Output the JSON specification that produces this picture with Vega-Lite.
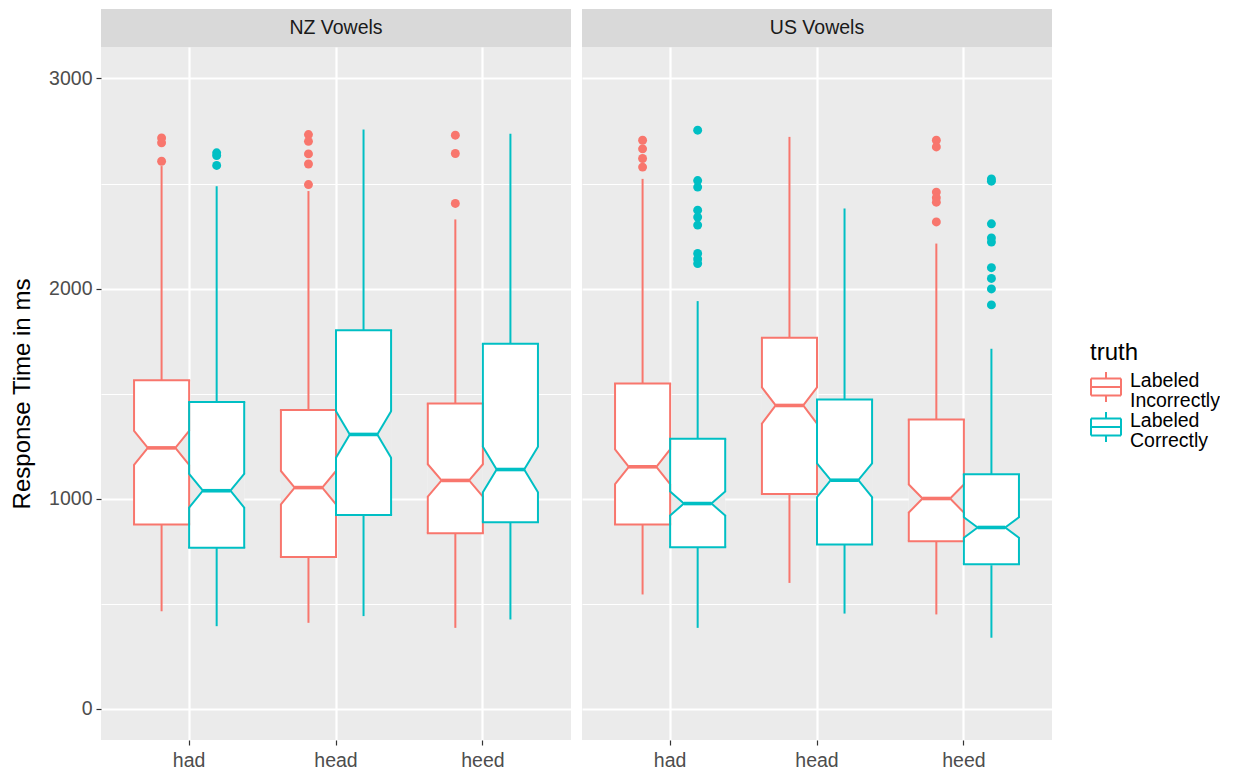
{
"$schema": "https://vega.github.io/schema/vega-lite/v6.json",
"padding": {"left": 10, "top": 9, "right": 0, "bottom": 0},
"background": "#FFFFFF",
"datasets": {
 "boxes": [
  {"panel":"NZ Vowels","vowel":"had","truth":"Labeled Incorrectly","wlo":463,"q1":876,"nlo":1160,"med":1241,"nhi":1322,"q3":1563,"whi":2583},
  {"panel":"NZ Vowels","vowel":"had","truth":"Labeled Correctly","wlo":392,"q1":765,"nlo":957,"med":1037,"nhi":1117,"q3":1460,"whi":2487},
  {"panel":"NZ Vowels","vowel":"head","truth":"Labeled Incorrectly","wlo":408,"q1":722,"nlo":972,"med":1052,"nhi":1131,"q3":1422,"whi":2464},
  {"panel":"NZ Vowels","vowel":"head","truth":"Labeled Correctly","wlo":440,"q1":921,"nlo":1194,"med":1305,"nhi":1416,"q3":1801,"whi":2757},
  {"panel":"NZ Vowels","vowel":"heed","truth":"Labeled Incorrectly","wlo":384,"q1":835,"nlo":1009,"med":1086,"nhi":1163,"q3":1452,"whi":2329},
  {"panel":"NZ Vowels","vowel":"heed","truth":"Labeled Correctly","wlo":424,"q1":887,"nlo":1030,"med":1138,"nhi":1246,"q3":1737,"whi":2737},
  {"panel":"US Vowels","vowel":"had","truth":"Labeled Incorrectly","wlo":543,"q1":876,"nlo":1068,"med":1151,"nhi":1234,"q3":1548,"whi":2522},
  {"panel":"US Vowels","vowel":"had","truth":"Labeled Correctly","wlo":384,"q1":768,"nlo":919,"med":976,"nhi":1033,"q3":1284,"whi":1940},
  {"panel":"US Vowels","vowel":"head","truth":"Labeled Incorrectly","wlo":598,"q1":1022,"nlo":1357,"med":1443,"nhi":1529,"q3":1765,"whi":2722},
  {"panel":"US Vowels","vowel":"head","truth":"Labeled Correctly","wlo":452,"q1":781,"nlo":1007,"med":1087,"nhi":1167,"q3":1471,"whi":2381},
  {"panel":"US Vowels","vowel":"heed","truth":"Labeled Incorrectly","wlo":448,"q1":797,"nlo":933,"med":1000,"nhi":1067,"q3":1376,"whi":2214},
  {"panel":"US Vowels","vowel":"heed","truth":"Labeled Correctly","wlo":337,"q1":687,"nlo":813,"med":862,"nhi":911,"q3":1116,"whi":1713}
 ],
 "outliers": [
  {"panel":"NZ Vowels","vowel":"had","truth":"Labeled Incorrectly","value":2717},
  {"panel":"NZ Vowels","vowel":"had","truth":"Labeled Incorrectly","value":2694},
  {"panel":"NZ Vowels","vowel":"had","truth":"Labeled Incorrectly","value":2606},
  {"panel":"NZ Vowels","vowel":"had","truth":"Labeled Correctly","value":2646},
  {"panel":"NZ Vowels","vowel":"had","truth":"Labeled Correctly","value":2633},
  {"panel":"NZ Vowels","vowel":"had","truth":"Labeled Correctly","value":2586},
  {"panel":"NZ Vowels","vowel":"head","truth":"Labeled Incorrectly","value":2733},
  {"panel":"NZ Vowels","vowel":"head","truth":"Labeled Incorrectly","value":2701},
  {"panel":"NZ Vowels","vowel":"head","truth":"Labeled Incorrectly","value":2641},
  {"panel":"NZ Vowels","vowel":"head","truth":"Labeled Incorrectly","value":2593},
  {"panel":"NZ Vowels","vowel":"head","truth":"Labeled Incorrectly","value":2495},
  {"panel":"NZ Vowels","vowel":"heed","truth":"Labeled Incorrectly","value":2730},
  {"panel":"NZ Vowels","vowel":"heed","truth":"Labeled Incorrectly","value":2643},
  {"panel":"NZ Vowels","vowel":"heed","truth":"Labeled Incorrectly","value":2405},
  {"panel":"US Vowels","vowel":"had","truth":"Labeled Incorrectly","value":2706},
  {"panel":"US Vowels","vowel":"had","truth":"Labeled Incorrectly","value":2665},
  {"panel":"US Vowels","vowel":"had","truth":"Labeled Incorrectly","value":2619},
  {"panel":"US Vowels","vowel":"had","truth":"Labeled Incorrectly","value":2578},
  {"panel":"US Vowels","vowel":"had","truth":"Labeled Correctly","value":2754},
  {"panel":"US Vowels","vowel":"had","truth":"Labeled Correctly","value":2514},
  {"panel":"US Vowels","vowel":"had","truth":"Labeled Correctly","value":2483},
  {"panel":"US Vowels","vowel":"had","truth":"Labeled Correctly","value":2373},
  {"panel":"US Vowels","vowel":"had","truth":"Labeled Correctly","value":2340},
  {"panel":"US Vowels","vowel":"had","truth":"Labeled Correctly","value":2302},
  {"panel":"US Vowels","vowel":"had","truth":"Labeled Correctly","value":2167},
  {"panel":"US Vowels","vowel":"had","truth":"Labeled Correctly","value":2141},
  {"panel":"US Vowels","vowel":"had","truth":"Labeled Correctly","value":2119},
  {"panel":"US Vowels","vowel":"heed","truth":"Labeled Incorrectly","value":2706},
  {"panel":"US Vowels","vowel":"heed","truth":"Labeled Incorrectly","value":2674},
  {"panel":"US Vowels","vowel":"heed","truth":"Labeled Incorrectly","value":2459},
  {"panel":"US Vowels","vowel":"heed","truth":"Labeled Incorrectly","value":2432},
  {"panel":"US Vowels","vowel":"heed","truth":"Labeled Incorrectly","value":2411},
  {"panel":"US Vowels","vowel":"heed","truth":"Labeled Incorrectly","value":2317},
  {"panel":"US Vowels","vowel":"heed","truth":"Labeled Correctly","value":2522},
  {"panel":"US Vowels","vowel":"heed","truth":"Labeled Correctly","value":2511},
  {"panel":"US Vowels","vowel":"heed","truth":"Labeled Correctly","value":2308},
  {"panel":"US Vowels","vowel":"heed","truth":"Labeled Correctly","value":2241},
  {"panel":"US Vowels","vowel":"heed","truth":"Labeled Correctly","value":2221},
  {"panel":"US Vowels","vowel":"heed","truth":"Labeled Correctly","value":2099},
  {"panel":"US Vowels","vowel":"heed","truth":"Labeled Correctly","value":2048},
  {"panel":"US Vowels","vowel":"heed","truth":"Labeled Correctly","value":1998},
  {"panel":"US Vowels","vowel":"heed","truth":"Labeled Correctly","value":1922}
 ],
 "strips": [{"panel":"NZ Vowels"},{"panel":"US Vowels"}]
},
"hconcat": [
 {
  "vconcat": [
   {"width": 470, "height": 38, "view": {"fill": "#D9D9D9", "stroke": null},
    "data": {"name": "strips"}, "transform": [{"filter": "datum.panel === 'NZ Vowels'"}],
    "mark": {"type": "text", "font": "Liberation Sans", "fontSize": 19.5, "color": "#1A1A1A"},
    "encoding": {"text": {"field": "panel", "type": "nominal"}}},
   {"width": 470, "height": 693,
    "data": {"name": "boxes"}, "transform": [{"filter": "datum.panel === 'NZ Vowels'"}],
    "layer": [
     {"mark": {"type": "rule", "strokeWidth": 2},
      "encoding": {"x": {"field":"vowel","type":"nominal","scale":{"domain":["had","head","heed"],"paddingInner":0.25,"paddingOuter":0.225},"axis":{"grid":true,"bandPosition":0.5,"labelAngle":0},"title":null},
       "xOffset": {"field":"truth","type":"nominal","scale":{"domain":["Labeled Incorrectly","Labeled Correctly"],"paddingInner":0,"paddingOuter":0}},
       "y": {"field":"q3","type":"quantitative","scale":{"domain":[-150,3150],"nice":false,"zero":false},"axis":{"values":[0,500,1000,1500,2000,2500,3000],"format":"d","grid":true,"gridWidth":{"condition":{"test":"datum.value % 1000 === 0","value":2.2},"value":1.1},"tickOpacity":{"condition":{"test":"datum.value % 1000 === 0","value":1},"value":0},"labelExpr":"datum.value % 1000 === 0 ? datum.label : ''"},"title":"Response Time in ms"},
       "y2": {"field":"whi"},
       "stroke": {"field":"truth","type":"nominal","title":"truth","scale":{"domain":["Labeled Incorrectly","Labeled Correctly"],"range":["#F8766D","#00BFC4"]},
        "legend":{"orient":"none","legendX":989,"legendY":332,"labelExpr":"['Labeled', '\u00a0' + slice(datum.label, 8)]","symbolType":"M-1,-0.567H1 M1,-0.567V0.567 M1,0.567H-1 M-1,0.567V-0.567 M-1,0H1 M0,-0.567V-1 M0,0.567V1","symbolSize":900,"symbolStrokeWidth":2,"symbolFillColor":"#FFFFFF","labelOffset":8,"rowPadding":-13,"titlePadding":6,"padding":0,"encode":{"labels":{"update":{"lineHeight":{"value":20},"dy":{"value":-6}}}}}}}},
     {"mark": {"type": "rule", "strokeWidth": 2},
      "encoding": {"x": {"field":"vowel","type":"nominal","scale":{"domain":["had","head","heed"],"paddingInner":0.25,"paddingOuter":0.225},"axis":{"grid":true,"bandPosition":0.5,"labelAngle":0},"title":null},
       "xOffset": {"field":"truth","type":"nominal","scale":{"domain":["Labeled Incorrectly","Labeled Correctly"],"paddingInner":0,"paddingOuter":0}},
       "y": {"field":"wlo","type":"quantitative","scale":{"domain":[-150,3150],"nice":false,"zero":false},"axis":{"values":[0,500,1000,1500,2000,2500,3000],"format":"d","grid":true,"gridWidth":{"condition":{"test":"datum.value % 1000 === 0","value":2.2},"value":1.1},"tickOpacity":{"condition":{"test":"datum.value % 1000 === 0","value":1},"value":0},"labelExpr":"datum.value % 1000 === 0 ? datum.label : ''"},"title":"Response Time in ms"},
       "y2": {"field":"q1"},
       "stroke": {"field":"truth","type":"nominal","title":"truth","scale":{"domain":["Labeled Incorrectly","Labeled Correctly"],"range":["#F8766D","#00BFC4"]}}}},
     {"mark": {"type": "bar", "color": "#FFFFFF", "stroke": null},
      "encoding": {"x": {"field":"vowel","type":"nominal","scale":{"domain":["had","head","heed"],"paddingInner":0.25,"paddingOuter":0.225},"axis":{"grid":true,"bandPosition":0.5,"labelAngle":0},"title":null},
       "xOffset": {"field":"truth","type":"nominal","scale":{"domain":["Labeled Incorrectly","Labeled Correctly"],"paddingInner":0,"paddingOuter":0}},
       "y": {"field":"q1","type":"quantitative","scale":{"domain":[-150,3150],"nice":false,"zero":false},"axis":{"values":[0,500,1000,1500,2000,2500,3000],"format":"d","grid":true,"gridWidth":{"condition":{"test":"datum.value % 1000 === 0","value":2.2},"value":1.1},"tickOpacity":{"condition":{"test":"datum.value % 1000 === 0","value":1},"value":0},"labelExpr":"datum.value % 1000 === 0 ? datum.label : ''"},"title":"Response Time in ms"},
       "y2": {"field":"q3"}}},
     {"mark": {"type": "bar", "color": "#EBEBEB", "stroke": null},
      "encoding": {"x": {"field":"vowel","type":"nominal","scale":{"domain":["had","head","heed"],"paddingInner":0.25,"paddingOuter":0.225},"axis":{"grid":true,"bandPosition":0.5,"labelAngle":0},"title":null},
       "xOffset": {"field":"truth","type":"nominal","scale":{"domain":["Labeled Incorrectly","Labeled Correctly"],"paddingInner":0,"paddingOuter":0}},
       "y": {"field":"nlo","type":"quantitative","scale":{"domain":[-150,3150],"nice":false,"zero":false},"axis":{"values":[0,500,1000,1500,2000,2500,3000],"format":"d","grid":true,"gridWidth":{"condition":{"test":"datum.value % 1000 === 0","value":2.2},"value":1.1},"tickOpacity":{"condition":{"test":"datum.value % 1000 === 0","value":1},"value":0},"labelExpr":"datum.value % 1000 === 0 ? datum.label : ''"},"title":"Response Time in ms"},
       "y2": {"field":"nhi"}}},
     {"transform": [{"fold": ["nlo","med","nhi"], "as": ["stat","sy"]}],
      "mark": {"type": "trail", "color": "#FFFFFF", "opacity": 1},
      "encoding": {"x": {"field":"vowel","type":"nominal","scale":{"domain":["had","head","heed"],"paddingInner":0.25,"paddingOuter":0.225},"axis":{"grid":true,"bandPosition":0.5,"labelAngle":0},"title":null},
       "xOffset": {"field":"truth","type":"nominal","scale":{"domain":["Labeled Incorrectly","Labeled Correctly"],"paddingInner":0,"paddingOuter":0}},
       "y": {"field":"sy","type":"quantitative","scale":{"domain":[-150,3150],"nice":false,"zero":false},"axis":{"values":[0,500,1000,1500,2000,2500,3000],"format":"d","grid":true,"gridWidth":{"condition":{"test":"datum.value % 1000 === 0","value":2.2},"value":1.1},"tickOpacity":{"condition":{"test":"datum.value % 1000 === 0","value":1},"value":0},"labelExpr":"datum.value % 1000 === 0 ? datum.label : ''"},"title":"Response Time in ms"},
       "size": {"field":"stat","type":"ordinal","scale":{"type":"ordinal","domain":["nlo","med","nhi"],"range":[55,27.5,55]},"legend":null},
       "detail": [{"field":"vowel","type":"nominal"},{"field":"truth","type":"nominal"}],
       "order": {"field":"sy","type":"quantitative"}}},
     {"transform": [{"filter": "datum.truth === 'Labeled Incorrectly'"}],
      "layer": [
       {"mark": {"type": "rule", "strokeWidth": 2},
        "encoding": {"x": {"field":"vowel","type":"nominal","bandPosition":0,"scale":{"domain":["had","head","heed"],"paddingInner":0.25,"paddingOuter":0.225},"axis":{"grid":true,"bandPosition":0.5,"labelAngle":0},"title":null},
         "y": {"field":"nhi","type":"quantitative","scale":{"domain":[-150,3150],"nice":false,"zero":false},"axis":{"values":[0,500,1000,1500,2000,2500,3000],"format":"d","grid":true,"gridWidth":{"condition":{"test":"datum.value % 1000 === 0","value":2.2},"value":1.1},"tickOpacity":{"condition":{"test":"datum.value % 1000 === 0","value":1},"value":0},"labelExpr":"datum.value % 1000 === 0 ? datum.label : ''"},"title":"Response Time in ms"},
         "y2": {"field":"q3"},
         "stroke": {"field":"truth","type":"nominal","title":"truth","scale":{"domain":["Labeled Incorrectly","Labeled Correctly"],"range":["#F8766D","#00BFC4"]}}}},
       {"mark": {"type": "rule", "strokeWidth": 2},
        "encoding": {"x": {"field":"vowel","type":"nominal","bandPosition":0,"scale":{"domain":["had","head","heed"],"paddingInner":0.25,"paddingOuter":0.225},"axis":{"grid":true,"bandPosition":0.5,"labelAngle":0},"title":null},
         "y": {"field":"q1","type":"quantitative","scale":{"domain":[-150,3150],"nice":false,"zero":false},"axis":{"values":[0,500,1000,1500,2000,2500,3000],"format":"d","grid":true,"gridWidth":{"condition":{"test":"datum.value % 1000 === 0","value":2.2},"value":1.1},"tickOpacity":{"condition":{"test":"datum.value % 1000 === 0","value":1},"value":0},"labelExpr":"datum.value % 1000 === 0 ? datum.label : ''"},"title":"Response Time in ms"},
         "y2": {"field":"nlo"},
         "stroke": {"field":"truth","type":"nominal","title":"truth","scale":{"domain":["Labeled Incorrectly","Labeled Correctly"],"range":["#F8766D","#00BFC4"]}}}},
       {"mark": {"type": "rule", "strokeWidth": 2},
        "encoding": {"x": {"field":"vowel","type":"nominal","bandPosition":0.5,"scale":{"domain":["had","head","heed"],"paddingInner":0.25,"paddingOuter":0.225},"axis":{"grid":true,"bandPosition":0.5,"labelAngle":0},"title":null},
         "y": {"field":"nhi","type":"quantitative","scale":{"domain":[-150,3150],"nice":false,"zero":false},"axis":{"values":[0,500,1000,1500,2000,2500,3000],"format":"d","grid":true,"gridWidth":{"condition":{"test":"datum.value % 1000 === 0","value":2.2},"value":1.1},"tickOpacity":{"condition":{"test":"datum.value % 1000 === 0","value":1},"value":0},"labelExpr":"datum.value % 1000 === 0 ? datum.label : ''"},"title":"Response Time in ms"},
         "y2": {"field":"q3"},
         "stroke": {"field":"truth","type":"nominal","title":"truth","scale":{"domain":["Labeled Incorrectly","Labeled Correctly"],"range":["#F8766D","#00BFC4"]}}}},
       {"mark": {"type": "rule", "strokeWidth": 2},
        "encoding": {"x": {"field":"vowel","type":"nominal","bandPosition":0.5,"scale":{"domain":["had","head","heed"],"paddingInner":0.25,"paddingOuter":0.225},"axis":{"grid":true,"bandPosition":0.5,"labelAngle":0},"title":null},
         "y": {"field":"q1","type":"quantitative","scale":{"domain":[-150,3150],"nice":false,"zero":false},"axis":{"values":[0,500,1000,1500,2000,2500,3000],"format":"d","grid":true,"gridWidth":{"condition":{"test":"datum.value % 1000 === 0","value":2.2},"value":1.1},"tickOpacity":{"condition":{"test":"datum.value % 1000 === 0","value":1},"value":0},"labelExpr":"datum.value % 1000 === 0 ? datum.label : ''"},"title":"Response Time in ms"},
         "y2": {"field":"nlo"},
         "stroke": {"field":"truth","type":"nominal","title":"truth","scale":{"domain":["Labeled Incorrectly","Labeled Correctly"],"range":["#F8766D","#00BFC4"]}}}},
       {"transform": [{"fold": ["q1","q3"], "as": ["edge","ev"]}],
        "mark": {"type": "rule", "strokeWidth": 2, "strokeCap": "square"},
        "encoding": {"x": {"field":"vowel","type":"nominal","bandPosition":0,"scale":{"domain":["had","head","heed"],"paddingInner":0.25,"paddingOuter":0.225},"axis":{"grid":true,"bandPosition":0.5,"labelAngle":0},"title":null},
         "x2": {"field":"vowel","bandPosition":0.5},
         "y": {"field":"ev","type":"quantitative","scale":{"domain":[-150,3150],"nice":false,"zero":false},"axis":{"values":[0,500,1000,1500,2000,2500,3000],"format":"d","grid":true,"gridWidth":{"condition":{"test":"datum.value % 1000 === 0","value":2.2},"value":1.1},"tickOpacity":{"condition":{"test":"datum.value % 1000 === 0","value":1},"value":0},"labelExpr":"datum.value % 1000 === 0 ? datum.label : ''"},"title":"Response Time in ms"},
         "stroke": {"field":"truth","type":"nominal","title":"truth","scale":{"domain":["Labeled Incorrectly","Labeled Correctly"],"range":["#F8766D","#00BFC4"]}}}},
       {"transform": [{"fold": ["nlo","nhi"], "as": ["nk","nv"]}],
        "mark": {"type": "rule", "strokeWidth": 2, "strokeCap": "round"},
        "encoding": {"x": {"field":"vowel","type":"nominal","bandPosition":0,"scale":{"domain":["had","head","heed"],"paddingInner":0.25,"paddingOuter":0.225},"axis":{"grid":true,"bandPosition":0.5,"labelAngle":0},"title":null},
         "x2": {"field":"vowel","bandPosition":0.125},
         "y": {"field":"nv","type":"quantitative","scale":{"domain":[-150,3150],"nice":false,"zero":false},"axis":{"values":[0,500,1000,1500,2000,2500,3000],"format":"d","grid":true,"gridWidth":{"condition":{"test":"datum.value % 1000 === 0","value":2.2},"value":1.1},"tickOpacity":{"condition":{"test":"datum.value % 1000 === 0","value":1},"value":0},"labelExpr":"datum.value % 1000 === 0 ? datum.label : ''"},"title":"Response Time in ms"},
         "y2": {"field":"med"},
         "stroke": {"field":"truth","type":"nominal","title":"truth","scale":{"domain":["Labeled Incorrectly","Labeled Correctly"],"range":["#F8766D","#00BFC4"]}}}},
       {"transform": [{"fold": ["nlo","nhi"], "as": ["nk","nv"]}],
        "mark": {"type": "rule", "strokeWidth": 2, "strokeCap": "round"},
        "encoding": {"x": {"field":"vowel","type":"nominal","bandPosition":0.5,"scale":{"domain":["had","head","heed"],"paddingInner":0.25,"paddingOuter":0.225},"axis":{"grid":true,"bandPosition":0.5,"labelAngle":0},"title":null},
         "x2": {"field":"vowel","bandPosition":0.375},
         "y": {"field":"nv","type":"quantitative","scale":{"domain":[-150,3150],"nice":false,"zero":false},"axis":{"values":[0,500,1000,1500,2000,2500,3000],"format":"d","grid":true,"gridWidth":{"condition":{"test":"datum.value % 1000 === 0","value":2.2},"value":1.1},"tickOpacity":{"condition":{"test":"datum.value % 1000 === 0","value":1},"value":0},"labelExpr":"datum.value % 1000 === 0 ? datum.label : ''"},"title":"Response Time in ms"},
         "y2": {"field":"med"},
         "stroke": {"field":"truth","type":"nominal","title":"truth","scale":{"domain":["Labeled Incorrectly","Labeled Correctly"],"range":["#F8766D","#00BFC4"]}}}},
       {"mark": {"type": "rule", "strokeWidth": 3.6},
        "encoding": {"x": {"field":"vowel","type":"nominal","bandPosition":0.125,"scale":{"domain":["had","head","heed"],"paddingInner":0.25,"paddingOuter":0.225},"axis":{"grid":true,"bandPosition":0.5,"labelAngle":0},"title":null},
         "x2": {"field":"vowel","bandPosition":0.375},
         "y": {"field":"med","type":"quantitative","scale":{"domain":[-150,3150],"nice":false,"zero":false},"axis":{"values":[0,500,1000,1500,2000,2500,3000],"format":"d","grid":true,"gridWidth":{"condition":{"test":"datum.value % 1000 === 0","value":2.2},"value":1.1},"tickOpacity":{"condition":{"test":"datum.value % 1000 === 0","value":1},"value":0},"labelExpr":"datum.value % 1000 === 0 ? datum.label : ''"},"title":"Response Time in ms"},
         "stroke": {"field":"truth","type":"nominal","title":"truth","scale":{"domain":["Labeled Incorrectly","Labeled Correctly"],"range":["#F8766D","#00BFC4"]}}}}
      ]},
     {"transform": [{"filter": "datum.truth === 'Labeled Correctly'"}],
      "layer": [
       {"mark": {"type": "rule", "strokeWidth": 2},
        "encoding": {"x": {"field":"vowel","type":"nominal","bandPosition":0.5,"scale":{"domain":["had","head","heed"],"paddingInner":0.25,"paddingOuter":0.225},"axis":{"grid":true,"bandPosition":0.5,"labelAngle":0},"title":null},
         "y": {"field":"nhi","type":"quantitative","scale":{"domain":[-150,3150],"nice":false,"zero":false},"axis":{"values":[0,500,1000,1500,2000,2500,3000],"format":"d","grid":true,"gridWidth":{"condition":{"test":"datum.value % 1000 === 0","value":2.2},"value":1.1},"tickOpacity":{"condition":{"test":"datum.value % 1000 === 0","value":1},"value":0},"labelExpr":"datum.value % 1000 === 0 ? datum.label : ''"},"title":"Response Time in ms"},
         "y2": {"field":"q3"},
         "stroke": {"field":"truth","type":"nominal","title":"truth","scale":{"domain":["Labeled Incorrectly","Labeled Correctly"],"range":["#F8766D","#00BFC4"]}}}},
       {"mark": {"type": "rule", "strokeWidth": 2},
        "encoding": {"x": {"field":"vowel","type":"nominal","bandPosition":0.5,"scale":{"domain":["had","head","heed"],"paddingInner":0.25,"paddingOuter":0.225},"axis":{"grid":true,"bandPosition":0.5,"labelAngle":0},"title":null},
         "y": {"field":"q1","type":"quantitative","scale":{"domain":[-150,3150],"nice":false,"zero":false},"axis":{"values":[0,500,1000,1500,2000,2500,3000],"format":"d","grid":true,"gridWidth":{"condition":{"test":"datum.value % 1000 === 0","value":2.2},"value":1.1},"tickOpacity":{"condition":{"test":"datum.value % 1000 === 0","value":1},"value":0},"labelExpr":"datum.value % 1000 === 0 ? datum.label : ''"},"title":"Response Time in ms"},
         "y2": {"field":"nlo"},
         "stroke": {"field":"truth","type":"nominal","title":"truth","scale":{"domain":["Labeled Incorrectly","Labeled Correctly"],"range":["#F8766D","#00BFC4"]}}}},
       {"mark": {"type": "rule", "strokeWidth": 2},
        "encoding": {"x": {"field":"vowel","type":"nominal","bandPosition":1,"scale":{"domain":["had","head","heed"],"paddingInner":0.25,"paddingOuter":0.225},"axis":{"grid":true,"bandPosition":0.5,"labelAngle":0},"title":null},
         "y": {"field":"nhi","type":"quantitative","scale":{"domain":[-150,3150],"nice":false,"zero":false},"axis":{"values":[0,500,1000,1500,2000,2500,3000],"format":"d","grid":true,"gridWidth":{"condition":{"test":"datum.value % 1000 === 0","value":2.2},"value":1.1},"tickOpacity":{"condition":{"test":"datum.value % 1000 === 0","value":1},"value":0},"labelExpr":"datum.value % 1000 === 0 ? datum.label : ''"},"title":"Response Time in ms"},
         "y2": {"field":"q3"},
         "stroke": {"field":"truth","type":"nominal","title":"truth","scale":{"domain":["Labeled Incorrectly","Labeled Correctly"],"range":["#F8766D","#00BFC4"]}}}},
       {"mark": {"type": "rule", "strokeWidth": 2},
        "encoding": {"x": {"field":"vowel","type":"nominal","bandPosition":1,"scale":{"domain":["had","head","heed"],"paddingInner":0.25,"paddingOuter":0.225},"axis":{"grid":true,"bandPosition":0.5,"labelAngle":0},"title":null},
         "y": {"field":"q1","type":"quantitative","scale":{"domain":[-150,3150],"nice":false,"zero":false},"axis":{"values":[0,500,1000,1500,2000,2500,3000],"format":"d","grid":true,"gridWidth":{"condition":{"test":"datum.value % 1000 === 0","value":2.2},"value":1.1},"tickOpacity":{"condition":{"test":"datum.value % 1000 === 0","value":1},"value":0},"labelExpr":"datum.value % 1000 === 0 ? datum.label : ''"},"title":"Response Time in ms"},
         "y2": {"field":"nlo"},
         "stroke": {"field":"truth","type":"nominal","title":"truth","scale":{"domain":["Labeled Incorrectly","Labeled Correctly"],"range":["#F8766D","#00BFC4"]}}}},
       {"transform": [{"fold": ["q1","q3"], "as": ["edge","ev"]}],
        "mark": {"type": "rule", "strokeWidth": 2, "strokeCap": "square"},
        "encoding": {"x": {"field":"vowel","type":"nominal","bandPosition":0.5,"scale":{"domain":["had","head","heed"],"paddingInner":0.25,"paddingOuter":0.225},"axis":{"grid":true,"bandPosition":0.5,"labelAngle":0},"title":null},
         "x2": {"field":"vowel","bandPosition":1},
         "y": {"field":"ev","type":"quantitative","scale":{"domain":[-150,3150],"nice":false,"zero":false},"axis":{"values":[0,500,1000,1500,2000,2500,3000],"format":"d","grid":true,"gridWidth":{"condition":{"test":"datum.value % 1000 === 0","value":2.2},"value":1.1},"tickOpacity":{"condition":{"test":"datum.value % 1000 === 0","value":1},"value":0},"labelExpr":"datum.value % 1000 === 0 ? datum.label : ''"},"title":"Response Time in ms"},
         "stroke": {"field":"truth","type":"nominal","title":"truth","scale":{"domain":["Labeled Incorrectly","Labeled Correctly"],"range":["#F8766D","#00BFC4"]}}}},
       {"transform": [{"fold": ["nlo","nhi"], "as": ["nk","nv"]}],
        "mark": {"type": "rule", "strokeWidth": 2, "strokeCap": "round"},
        "encoding": {"x": {"field":"vowel","type":"nominal","bandPosition":0.5,"scale":{"domain":["had","head","heed"],"paddingInner":0.25,"paddingOuter":0.225},"axis":{"grid":true,"bandPosition":0.5,"labelAngle":0},"title":null},
         "x2": {"field":"vowel","bandPosition":0.625},
         "y": {"field":"nv","type":"quantitative","scale":{"domain":[-150,3150],"nice":false,"zero":false},"axis":{"values":[0,500,1000,1500,2000,2500,3000],"format":"d","grid":true,"gridWidth":{"condition":{"test":"datum.value % 1000 === 0","value":2.2},"value":1.1},"tickOpacity":{"condition":{"test":"datum.value % 1000 === 0","value":1},"value":0},"labelExpr":"datum.value % 1000 === 0 ? datum.label : ''"},"title":"Response Time in ms"},
         "y2": {"field":"med"},
         "stroke": {"field":"truth","type":"nominal","title":"truth","scale":{"domain":["Labeled Incorrectly","Labeled Correctly"],"range":["#F8766D","#00BFC4"]}}}},
       {"transform": [{"fold": ["nlo","nhi"], "as": ["nk","nv"]}],
        "mark": {"type": "rule", "strokeWidth": 2, "strokeCap": "round"},
        "encoding": {"x": {"field":"vowel","type":"nominal","bandPosition":1,"scale":{"domain":["had","head","heed"],"paddingInner":0.25,"paddingOuter":0.225},"axis":{"grid":true,"bandPosition":0.5,"labelAngle":0},"title":null},
         "x2": {"field":"vowel","bandPosition":0.875},
         "y": {"field":"nv","type":"quantitative","scale":{"domain":[-150,3150],"nice":false,"zero":false},"axis":{"values":[0,500,1000,1500,2000,2500,3000],"format":"d","grid":true,"gridWidth":{"condition":{"test":"datum.value % 1000 === 0","value":2.2},"value":1.1},"tickOpacity":{"condition":{"test":"datum.value % 1000 === 0","value":1},"value":0},"labelExpr":"datum.value % 1000 === 0 ? datum.label : ''"},"title":"Response Time in ms"},
         "y2": {"field":"med"},
         "stroke": {"field":"truth","type":"nominal","title":"truth","scale":{"domain":["Labeled Incorrectly","Labeled Correctly"],"range":["#F8766D","#00BFC4"]}}}},
       {"mark": {"type": "rule", "strokeWidth": 3.6},
        "encoding": {"x": {"field":"vowel","type":"nominal","bandPosition":0.625,"scale":{"domain":["had","head","heed"],"paddingInner":0.25,"paddingOuter":0.225},"axis":{"grid":true,"bandPosition":0.5,"labelAngle":0},"title":null},
         "x2": {"field":"vowel","bandPosition":0.875},
         "y": {"field":"med","type":"quantitative","scale":{"domain":[-150,3150],"nice":false,"zero":false},"axis":{"values":[0,500,1000,1500,2000,2500,3000],"format":"d","grid":true,"gridWidth":{"condition":{"test":"datum.value % 1000 === 0","value":2.2},"value":1.1},"tickOpacity":{"condition":{"test":"datum.value % 1000 === 0","value":1},"value":0},"labelExpr":"datum.value % 1000 === 0 ? datum.label : ''"},"title":"Response Time in ms"},
         "stroke": {"field":"truth","type":"nominal","title":"truth","scale":{"domain":["Labeled Incorrectly","Labeled Correctly"],"range":["#F8766D","#00BFC4"]}}}}
      ]},
     {"data": {"name": "outliers"}, "transform": [{"filter": "datum.panel === 'NZ Vowels'"}],
      "mark": {"type": "point", "filled": true, "size": 80, "opacity": 1, "strokeWidth": 0},
      "encoding": {"x": {"field":"vowel","type":"nominal","scale":{"domain":["had","head","heed"],"paddingInner":0.25,"paddingOuter":0.225},"axis":{"grid":true,"bandPosition":0.5,"labelAngle":0},"title":null},
       "xOffset": {"field":"truth","type":"nominal","scale":{"domain":["Labeled Incorrectly","Labeled Correctly"],"paddingInner":0,"paddingOuter":0}},
       "y": {"field":"value","type":"quantitative","scale":{"domain":[-150,3150],"nice":false,"zero":false},"axis":{"values":[0,500,1000,1500,2000,2500,3000],"format":"d","grid":true,"gridWidth":{"condition":{"test":"datum.value % 1000 === 0","value":2.2},"value":1.1},"tickOpacity":{"condition":{"test":"datum.value % 1000 === 0","value":1},"value":0},"labelExpr":"datum.value % 1000 === 0 ? datum.label : ''"},"title":"Response Time in ms"},
       "fill": {"field":"truth","type":"nominal","scale":{"domain":["Labeled Incorrectly","Labeled Correctly"],"range":["#F8766D","#00BFC4"]},"legend":null}}}
    ]}
  ],
  "spacing": 0,
  "resolve": {"scale": {"xOffset": "independent"}}
 },
 {
  "vconcat": [
   {"width": 470, "height": 38, "view": {"fill": "#D9D9D9", "stroke": null},
    "data": {"name": "strips"}, "transform": [{"filter": "datum.panel === 'US Vowels'"}],
    "mark": {"type": "text", "font": "Liberation Sans", "fontSize": 19.5, "color": "#1A1A1A"},
    "encoding": {"text": {"field": "panel", "type": "nominal"}}},
   {"width": 470, "height": 693,
    "data": {"name": "boxes"}, "transform": [{"filter": "datum.panel === 'US Vowels'"}],
    "layer": [
     {"mark": {"type": "rule", "strokeWidth": 2},
      "encoding": {"x": {"field":"vowel","type":"nominal","scale":{"domain":["had","head","heed"],"paddingInner":0.25,"paddingOuter":0.225},"axis":{"grid":true,"bandPosition":0.5,"labelAngle":0},"title":null},
       "xOffset": {"field":"truth","type":"nominal","scale":{"domain":["Labeled Incorrectly","Labeled Correctly"],"paddingInner":0,"paddingOuter":0}},
       "y": {"field":"q3","type":"quantitative","scale":{"domain":[-150,3150],"nice":false,"zero":false},"axis":{"values":[0,500,1000,1500,2000,2500,3000],"grid":true,"gridWidth":{"condition":{"test":"datum.value % 1000 === 0","value":2.2},"value":1.1},"labels":false,"ticks":false},"title":null},
       "y2": {"field":"whi"},
       "stroke": {"field":"truth","type":"nominal","title":"truth","scale":{"domain":["Labeled Incorrectly","Labeled Correctly"],"range":["#F8766D","#00BFC4"]},
        "legend":{"orient":"none","legendX":989,"legendY":332,"labelExpr":"['Labeled', '\u00a0' + slice(datum.label, 8)]","symbolType":"M-1,-0.567H1 M1,-0.567V0.567 M1,0.567H-1 M-1,0.567V-0.567 M-1,0H1 M0,-0.567V-1 M0,0.567V1","symbolSize":900,"symbolStrokeWidth":2,"symbolFillColor":"#FFFFFF","labelOffset":8,"rowPadding":-13,"titlePadding":6,"padding":0,"encode":{"labels":{"update":{"lineHeight":{"value":20},"dy":{"value":-6}}}}}}}},
     {"mark": {"type": "rule", "strokeWidth": 2},
      "encoding": {"x": {"field":"vowel","type":"nominal","scale":{"domain":["had","head","heed"],"paddingInner":0.25,"paddingOuter":0.225},"axis":{"grid":true,"bandPosition":0.5,"labelAngle":0},"title":null},
       "xOffset": {"field":"truth","type":"nominal","scale":{"domain":["Labeled Incorrectly","Labeled Correctly"],"paddingInner":0,"paddingOuter":0}},
       "y": {"field":"wlo","type":"quantitative","scale":{"domain":[-150,3150],"nice":false,"zero":false},"axis":{"values":[0,500,1000,1500,2000,2500,3000],"grid":true,"gridWidth":{"condition":{"test":"datum.value % 1000 === 0","value":2.2},"value":1.1},"labels":false,"ticks":false},"title":null},
       "y2": {"field":"q1"},
       "stroke": {"field":"truth","type":"nominal","title":"truth","scale":{"domain":["Labeled Incorrectly","Labeled Correctly"],"range":["#F8766D","#00BFC4"]}}}},
     {"mark": {"type": "bar", "color": "#FFFFFF", "stroke": null},
      "encoding": {"x": {"field":"vowel","type":"nominal","scale":{"domain":["had","head","heed"],"paddingInner":0.25,"paddingOuter":0.225},"axis":{"grid":true,"bandPosition":0.5,"labelAngle":0},"title":null},
       "xOffset": {"field":"truth","type":"nominal","scale":{"domain":["Labeled Incorrectly","Labeled Correctly"],"paddingInner":0,"paddingOuter":0}},
       "y": {"field":"q1","type":"quantitative","scale":{"domain":[-150,3150],"nice":false,"zero":false},"axis":{"values":[0,500,1000,1500,2000,2500,3000],"grid":true,"gridWidth":{"condition":{"test":"datum.value % 1000 === 0","value":2.2},"value":1.1},"labels":false,"ticks":false},"title":null},
       "y2": {"field":"q3"}}},
     {"mark": {"type": "bar", "color": "#EBEBEB", "stroke": null},
      "encoding": {"x": {"field":"vowel","type":"nominal","scale":{"domain":["had","head","heed"],"paddingInner":0.25,"paddingOuter":0.225},"axis":{"grid":true,"bandPosition":0.5,"labelAngle":0},"title":null},
       "xOffset": {"field":"truth","type":"nominal","scale":{"domain":["Labeled Incorrectly","Labeled Correctly"],"paddingInner":0,"paddingOuter":0}},
       "y": {"field":"nlo","type":"quantitative","scale":{"domain":[-150,3150],"nice":false,"zero":false},"axis":{"values":[0,500,1000,1500,2000,2500,3000],"grid":true,"gridWidth":{"condition":{"test":"datum.value % 1000 === 0","value":2.2},"value":1.1},"labels":false,"ticks":false},"title":null},
       "y2": {"field":"nhi"}}},
     {"transform": [{"fold": ["nlo","med","nhi"], "as": ["stat","sy"]}],
      "mark": {"type": "trail", "color": "#FFFFFF", "opacity": 1},
      "encoding": {"x": {"field":"vowel","type":"nominal","scale":{"domain":["had","head","heed"],"paddingInner":0.25,"paddingOuter":0.225},"axis":{"grid":true,"bandPosition":0.5,"labelAngle":0},"title":null},
       "xOffset": {"field":"truth","type":"nominal","scale":{"domain":["Labeled Incorrectly","Labeled Correctly"],"paddingInner":0,"paddingOuter":0}},
       "y": {"field":"sy","type":"quantitative","scale":{"domain":[-150,3150],"nice":false,"zero":false},"axis":{"values":[0,500,1000,1500,2000,2500,3000],"grid":true,"gridWidth":{"condition":{"test":"datum.value % 1000 === 0","value":2.2},"value":1.1},"labels":false,"ticks":false},"title":null},
       "size": {"field":"stat","type":"ordinal","scale":{"type":"ordinal","domain":["nlo","med","nhi"],"range":[55,27.5,55]},"legend":null},
       "detail": [{"field":"vowel","type":"nominal"},{"field":"truth","type":"nominal"}],
       "order": {"field":"sy","type":"quantitative"}}},
     {"transform": [{"filter": "datum.truth === 'Labeled Incorrectly'"}],
      "layer": [
       {"mark": {"type": "rule", "strokeWidth": 2},
        "encoding": {"x": {"field":"vowel","type":"nominal","bandPosition":0,"scale":{"domain":["had","head","heed"],"paddingInner":0.25,"paddingOuter":0.225},"axis":{"grid":true,"bandPosition":0.5,"labelAngle":0},"title":null},
         "y": {"field":"nhi","type":"quantitative","scale":{"domain":[-150,3150],"nice":false,"zero":false},"axis":{"values":[0,500,1000,1500,2000,2500,3000],"grid":true,"gridWidth":{"condition":{"test":"datum.value % 1000 === 0","value":2.2},"value":1.1},"labels":false,"ticks":false},"title":null},
         "y2": {"field":"q3"},
         "stroke": {"field":"truth","type":"nominal","title":"truth","scale":{"domain":["Labeled Incorrectly","Labeled Correctly"],"range":["#F8766D","#00BFC4"]}}}},
       {"mark": {"type": "rule", "strokeWidth": 2},
        "encoding": {"x": {"field":"vowel","type":"nominal","bandPosition":0,"scale":{"domain":["had","head","heed"],"paddingInner":0.25,"paddingOuter":0.225},"axis":{"grid":true,"bandPosition":0.5,"labelAngle":0},"title":null},
         "y": {"field":"q1","type":"quantitative","scale":{"domain":[-150,3150],"nice":false,"zero":false},"axis":{"values":[0,500,1000,1500,2000,2500,3000],"grid":true,"gridWidth":{"condition":{"test":"datum.value % 1000 === 0","value":2.2},"value":1.1},"labels":false,"ticks":false},"title":null},
         "y2": {"field":"nlo"},
         "stroke": {"field":"truth","type":"nominal","title":"truth","scale":{"domain":["Labeled Incorrectly","Labeled Correctly"],"range":["#F8766D","#00BFC4"]}}}},
       {"mark": {"type": "rule", "strokeWidth": 2},
        "encoding": {"x": {"field":"vowel","type":"nominal","bandPosition":0.5,"scale":{"domain":["had","head","heed"],"paddingInner":0.25,"paddingOuter":0.225},"axis":{"grid":true,"bandPosition":0.5,"labelAngle":0},"title":null},
         "y": {"field":"nhi","type":"quantitative","scale":{"domain":[-150,3150],"nice":false,"zero":false},"axis":{"values":[0,500,1000,1500,2000,2500,3000],"grid":true,"gridWidth":{"condition":{"test":"datum.value % 1000 === 0","value":2.2},"value":1.1},"labels":false,"ticks":false},"title":null},
         "y2": {"field":"q3"},
         "stroke": {"field":"truth","type":"nominal","title":"truth","scale":{"domain":["Labeled Incorrectly","Labeled Correctly"],"range":["#F8766D","#00BFC4"]}}}},
       {"mark": {"type": "rule", "strokeWidth": 2},
        "encoding": {"x": {"field":"vowel","type":"nominal","bandPosition":0.5,"scale":{"domain":["had","head","heed"],"paddingInner":0.25,"paddingOuter":0.225},"axis":{"grid":true,"bandPosition":0.5,"labelAngle":0},"title":null},
         "y": {"field":"q1","type":"quantitative","scale":{"domain":[-150,3150],"nice":false,"zero":false},"axis":{"values":[0,500,1000,1500,2000,2500,3000],"grid":true,"gridWidth":{"condition":{"test":"datum.value % 1000 === 0","value":2.2},"value":1.1},"labels":false,"ticks":false},"title":null},
         "y2": {"field":"nlo"},
         "stroke": {"field":"truth","type":"nominal","title":"truth","scale":{"domain":["Labeled Incorrectly","Labeled Correctly"],"range":["#F8766D","#00BFC4"]}}}},
       {"transform": [{"fold": ["q1","q3"], "as": ["edge","ev"]}],
        "mark": {"type": "rule", "strokeWidth": 2, "strokeCap": "square"},
        "encoding": {"x": {"field":"vowel","type":"nominal","bandPosition":0,"scale":{"domain":["had","head","heed"],"paddingInner":0.25,"paddingOuter":0.225},"axis":{"grid":true,"bandPosition":0.5,"labelAngle":0},"title":null},
         "x2": {"field":"vowel","bandPosition":0.5},
         "y": {"field":"ev","type":"quantitative","scale":{"domain":[-150,3150],"nice":false,"zero":false},"axis":{"values":[0,500,1000,1500,2000,2500,3000],"grid":true,"gridWidth":{"condition":{"test":"datum.value % 1000 === 0","value":2.2},"value":1.1},"labels":false,"ticks":false},"title":null},
         "stroke": {"field":"truth","type":"nominal","title":"truth","scale":{"domain":["Labeled Incorrectly","Labeled Correctly"],"range":["#F8766D","#00BFC4"]}}}},
       {"transform": [{"fold": ["nlo","nhi"], "as": ["nk","nv"]}],
        "mark": {"type": "rule", "strokeWidth": 2, "strokeCap": "round"},
        "encoding": {"x": {"field":"vowel","type":"nominal","bandPosition":0,"scale":{"domain":["had","head","heed"],"paddingInner":0.25,"paddingOuter":0.225},"axis":{"grid":true,"bandPosition":0.5,"labelAngle":0},"title":null},
         "x2": {"field":"vowel","bandPosition":0.125},
         "y": {"field":"nv","type":"quantitative","scale":{"domain":[-150,3150],"nice":false,"zero":false},"axis":{"values":[0,500,1000,1500,2000,2500,3000],"grid":true,"gridWidth":{"condition":{"test":"datum.value % 1000 === 0","value":2.2},"value":1.1},"labels":false,"ticks":false},"title":null},
         "y2": {"field":"med"},
         "stroke": {"field":"truth","type":"nominal","title":"truth","scale":{"domain":["Labeled Incorrectly","Labeled Correctly"],"range":["#F8766D","#00BFC4"]}}}},
       {"transform": [{"fold": ["nlo","nhi"], "as": ["nk","nv"]}],
        "mark": {"type": "rule", "strokeWidth": 2, "strokeCap": "round"},
        "encoding": {"x": {"field":"vowel","type":"nominal","bandPosition":0.5,"scale":{"domain":["had","head","heed"],"paddingInner":0.25,"paddingOuter":0.225},"axis":{"grid":true,"bandPosition":0.5,"labelAngle":0},"title":null},
         "x2": {"field":"vowel","bandPosition":0.375},
         "y": {"field":"nv","type":"quantitative","scale":{"domain":[-150,3150],"nice":false,"zero":false},"axis":{"values":[0,500,1000,1500,2000,2500,3000],"grid":true,"gridWidth":{"condition":{"test":"datum.value % 1000 === 0","value":2.2},"value":1.1},"labels":false,"ticks":false},"title":null},
         "y2": {"field":"med"},
         "stroke": {"field":"truth","type":"nominal","title":"truth","scale":{"domain":["Labeled Incorrectly","Labeled Correctly"],"range":["#F8766D","#00BFC4"]}}}},
       {"mark": {"type": "rule", "strokeWidth": 3.6},
        "encoding": {"x": {"field":"vowel","type":"nominal","bandPosition":0.125,"scale":{"domain":["had","head","heed"],"paddingInner":0.25,"paddingOuter":0.225},"axis":{"grid":true,"bandPosition":0.5,"labelAngle":0},"title":null},
         "x2": {"field":"vowel","bandPosition":0.375},
         "y": {"field":"med","type":"quantitative","scale":{"domain":[-150,3150],"nice":false,"zero":false},"axis":{"values":[0,500,1000,1500,2000,2500,3000],"grid":true,"gridWidth":{"condition":{"test":"datum.value % 1000 === 0","value":2.2},"value":1.1},"labels":false,"ticks":false},"title":null},
         "stroke": {"field":"truth","type":"nominal","title":"truth","scale":{"domain":["Labeled Incorrectly","Labeled Correctly"],"range":["#F8766D","#00BFC4"]}}}}
      ]},
     {"transform": [{"filter": "datum.truth === 'Labeled Correctly'"}],
      "layer": [
       {"mark": {"type": "rule", "strokeWidth": 2},
        "encoding": {"x": {"field":"vowel","type":"nominal","bandPosition":0.5,"scale":{"domain":["had","head","heed"],"paddingInner":0.25,"paddingOuter":0.225},"axis":{"grid":true,"bandPosition":0.5,"labelAngle":0},"title":null},
         "y": {"field":"nhi","type":"quantitative","scale":{"domain":[-150,3150],"nice":false,"zero":false},"axis":{"values":[0,500,1000,1500,2000,2500,3000],"grid":true,"gridWidth":{"condition":{"test":"datum.value % 1000 === 0","value":2.2},"value":1.1},"labels":false,"ticks":false},"title":null},
         "y2": {"field":"q3"},
         "stroke": {"field":"truth","type":"nominal","title":"truth","scale":{"domain":["Labeled Incorrectly","Labeled Correctly"],"range":["#F8766D","#00BFC4"]}}}},
       {"mark": {"type": "rule", "strokeWidth": 2},
        "encoding": {"x": {"field":"vowel","type":"nominal","bandPosition":0.5,"scale":{"domain":["had","head","heed"],"paddingInner":0.25,"paddingOuter":0.225},"axis":{"grid":true,"bandPosition":0.5,"labelAngle":0},"title":null},
         "y": {"field":"q1","type":"quantitative","scale":{"domain":[-150,3150],"nice":false,"zero":false},"axis":{"values":[0,500,1000,1500,2000,2500,3000],"grid":true,"gridWidth":{"condition":{"test":"datum.value % 1000 === 0","value":2.2},"value":1.1},"labels":false,"ticks":false},"title":null},
         "y2": {"field":"nlo"},
         "stroke": {"field":"truth","type":"nominal","title":"truth","scale":{"domain":["Labeled Incorrectly","Labeled Correctly"],"range":["#F8766D","#00BFC4"]}}}},
       {"mark": {"type": "rule", "strokeWidth": 2},
        "encoding": {"x": {"field":"vowel","type":"nominal","bandPosition":1,"scale":{"domain":["had","head","heed"],"paddingInner":0.25,"paddingOuter":0.225},"axis":{"grid":true,"bandPosition":0.5,"labelAngle":0},"title":null},
         "y": {"field":"nhi","type":"quantitative","scale":{"domain":[-150,3150],"nice":false,"zero":false},"axis":{"values":[0,500,1000,1500,2000,2500,3000],"grid":true,"gridWidth":{"condition":{"test":"datum.value % 1000 === 0","value":2.2},"value":1.1},"labels":false,"ticks":false},"title":null},
         "y2": {"field":"q3"},
         "stroke": {"field":"truth","type":"nominal","title":"truth","scale":{"domain":["Labeled Incorrectly","Labeled Correctly"],"range":["#F8766D","#00BFC4"]}}}},
       {"mark": {"type": "rule", "strokeWidth": 2},
        "encoding": {"x": {"field":"vowel","type":"nominal","bandPosition":1,"scale":{"domain":["had","head","heed"],"paddingInner":0.25,"paddingOuter":0.225},"axis":{"grid":true,"bandPosition":0.5,"labelAngle":0},"title":null},
         "y": {"field":"q1","type":"quantitative","scale":{"domain":[-150,3150],"nice":false,"zero":false},"axis":{"values":[0,500,1000,1500,2000,2500,3000],"grid":true,"gridWidth":{"condition":{"test":"datum.value % 1000 === 0","value":2.2},"value":1.1},"labels":false,"ticks":false},"title":null},
         "y2": {"field":"nlo"},
         "stroke": {"field":"truth","type":"nominal","title":"truth","scale":{"domain":["Labeled Incorrectly","Labeled Correctly"],"range":["#F8766D","#00BFC4"]}}}},
       {"transform": [{"fold": ["q1","q3"], "as": ["edge","ev"]}],
        "mark": {"type": "rule", "strokeWidth": 2, "strokeCap": "square"},
        "encoding": {"x": {"field":"vowel","type":"nominal","bandPosition":0.5,"scale":{"domain":["had","head","heed"],"paddingInner":0.25,"paddingOuter":0.225},"axis":{"grid":true,"bandPosition":0.5,"labelAngle":0},"title":null},
         "x2": {"field":"vowel","bandPosition":1},
         "y": {"field":"ev","type":"quantitative","scale":{"domain":[-150,3150],"nice":false,"zero":false},"axis":{"values":[0,500,1000,1500,2000,2500,3000],"grid":true,"gridWidth":{"condition":{"test":"datum.value % 1000 === 0","value":2.2},"value":1.1},"labels":false,"ticks":false},"title":null},
         "stroke": {"field":"truth","type":"nominal","title":"truth","scale":{"domain":["Labeled Incorrectly","Labeled Correctly"],"range":["#F8766D","#00BFC4"]}}}},
       {"transform": [{"fold": ["nlo","nhi"], "as": ["nk","nv"]}],
        "mark": {"type": "rule", "strokeWidth": 2, "strokeCap": "round"},
        "encoding": {"x": {"field":"vowel","type":"nominal","bandPosition":0.5,"scale":{"domain":["had","head","heed"],"paddingInner":0.25,"paddingOuter":0.225},"axis":{"grid":true,"bandPosition":0.5,"labelAngle":0},"title":null},
         "x2": {"field":"vowel","bandPosition":0.625},
         "y": {"field":"nv","type":"quantitative","scale":{"domain":[-150,3150],"nice":false,"zero":false},"axis":{"values":[0,500,1000,1500,2000,2500,3000],"grid":true,"gridWidth":{"condition":{"test":"datum.value % 1000 === 0","value":2.2},"value":1.1},"labels":false,"ticks":false},"title":null},
         "y2": {"field":"med"},
         "stroke": {"field":"truth","type":"nominal","title":"truth","scale":{"domain":["Labeled Incorrectly","Labeled Correctly"],"range":["#F8766D","#00BFC4"]}}}},
       {"transform": [{"fold": ["nlo","nhi"], "as": ["nk","nv"]}],
        "mark": {"type": "rule", "strokeWidth": 2, "strokeCap": "round"},
        "encoding": {"x": {"field":"vowel","type":"nominal","bandPosition":1,"scale":{"domain":["had","head","heed"],"paddingInner":0.25,"paddingOuter":0.225},"axis":{"grid":true,"bandPosition":0.5,"labelAngle":0},"title":null},
         "x2": {"field":"vowel","bandPosition":0.875},
         "y": {"field":"nv","type":"quantitative","scale":{"domain":[-150,3150],"nice":false,"zero":false},"axis":{"values":[0,500,1000,1500,2000,2500,3000],"grid":true,"gridWidth":{"condition":{"test":"datum.value % 1000 === 0","value":2.2},"value":1.1},"labels":false,"ticks":false},"title":null},
         "y2": {"field":"med"},
         "stroke": {"field":"truth","type":"nominal","title":"truth","scale":{"domain":["Labeled Incorrectly","Labeled Correctly"],"range":["#F8766D","#00BFC4"]}}}},
       {"mark": {"type": "rule", "strokeWidth": 3.6},
        "encoding": {"x": {"field":"vowel","type":"nominal","bandPosition":0.625,"scale":{"domain":["had","head","heed"],"paddingInner":0.25,"paddingOuter":0.225},"axis":{"grid":true,"bandPosition":0.5,"labelAngle":0},"title":null},
         "x2": {"field":"vowel","bandPosition":0.875},
         "y": {"field":"med","type":"quantitative","scale":{"domain":[-150,3150],"nice":false,"zero":false},"axis":{"values":[0,500,1000,1500,2000,2500,3000],"grid":true,"gridWidth":{"condition":{"test":"datum.value % 1000 === 0","value":2.2},"value":1.1},"labels":false,"ticks":false},"title":null},
         "stroke": {"field":"truth","type":"nominal","title":"truth","scale":{"domain":["Labeled Incorrectly","Labeled Correctly"],"range":["#F8766D","#00BFC4"]}}}}
      ]},
     {"data": {"name": "outliers"}, "transform": [{"filter": "datum.panel === 'US Vowels'"}],
      "mark": {"type": "point", "filled": true, "size": 80, "opacity": 1, "strokeWidth": 0},
      "encoding": {"x": {"field":"vowel","type":"nominal","scale":{"domain":["had","head","heed"],"paddingInner":0.25,"paddingOuter":0.225},"axis":{"grid":true,"bandPosition":0.5,"labelAngle":0},"title":null},
       "xOffset": {"field":"truth","type":"nominal","scale":{"domain":["Labeled Incorrectly","Labeled Correctly"],"paddingInner":0,"paddingOuter":0}},
       "y": {"field":"value","type":"quantitative","scale":{"domain":[-150,3150],"nice":false,"zero":false},"axis":{"values":[0,500,1000,1500,2000,2500,3000],"grid":true,"gridWidth":{"condition":{"test":"datum.value % 1000 === 0","value":2.2},"value":1.1},"labels":false,"ticks":false},"title":null},
       "fill": {"field":"truth","type":"nominal","scale":{"domain":["Labeled Incorrectly","Labeled Correctly"],"range":["#F8766D","#00BFC4"]},"legend":null}}}
    ]}
  ],
  "spacing": 0,
  "resolve": {"scale": {"xOffset": "independent"}}
 }
],
"spacing": 11,
"resolve": {"scale": {"stroke": "shared", "fill": "shared", "size": "shared", "xOffset": "independent"}, "legend": {"stroke": "shared"}},
"config": {
 "font": "Liberation Sans",
 "view": {"fill": "#EBEBEB", "stroke": null},
 "axis": {"domain": false, "labelFont": "Liberation Sans", "labelFontSize": 19.5, "labelColor": "#4D4D4D", "tickColor": "#333333", "tickWidth": 1.2, "tickSize": 5, "gridColor": "#FFFFFF", "titleFont": "Liberation Sans", "titleFontSize": 24, "titleFontWeight": "normal", "titleColor": "#000000"},
 "axisX": {"labelPadding": 6, "gridWidth": 2.2},
 "axisY": {"labelPadding": 4, "titlePadding": 14},
 "legend": {"titleFont": "Liberation Sans", "titleFontSize": 24, "titleFontWeight": "normal", "titleColor": "#000000", "labelFont": "Liberation Sans", "labelFontSize": 19.5, "labelColor": "#000000", "labelLimit": 400, "symbolFillColor": "#FFFFFF"}
}
}
